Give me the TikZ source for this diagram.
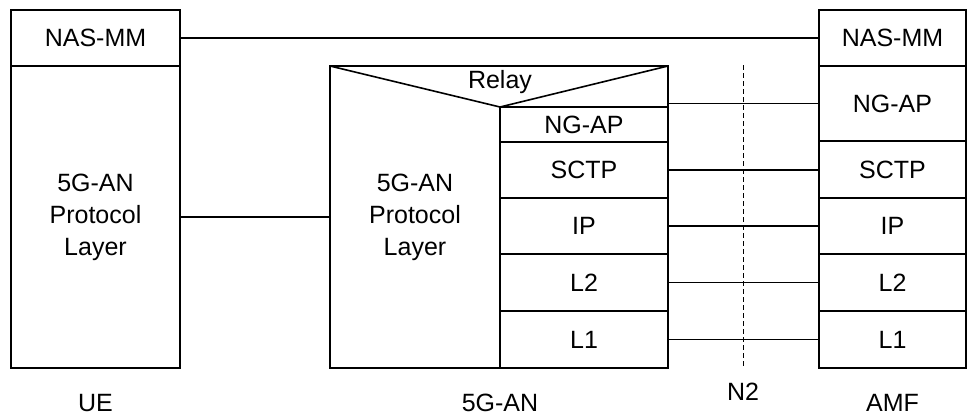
\documentclass[tikz,border=0pt]{standalone}
\usepackage{fontspec}
\setmainfont{Liberation Sans}
\usetikzlibrary{positioning}

\begin{document}
\begin{tikzpicture}[x=1pt,y=-1pt,
  layer/.style={
    rectangle,
    draw,
    line width=1.6pt,
    inner sep=0pt,
    align=center,
    font=\fontsize{25}{32}\selectfont
  },
  lbl/.style={
    inner sep=0pt,
    align=center,
    font=\fontsize{25}{32}\selectfont
  }
]
 \useasboundingbox (0,0) rectangle (975,416);
 % UE
 \node[layer,minimum width=169pt,minimum height=56pt] (uenas) at (95.5,38) {NAS-MM};
 \node[layer,minimum width=169pt,minimum height=302pt] (uepl) at (95.5,217) {5G-AN\\Protocol\\Layer};
 % 5G-AN
 \node[lbl,minimum width=170pt,minimum height=302pt] (anpl) at (415,217) {5G-AN\\Protocol\\Layer};
 \node[lbl,anchor=base] (relay) at (500,88) {Relay};
 \node[layer,minimum width=168pt,minimum height=35pt] (anngap) at (584,124.5) {NG-AP};
 \node[layer,minimum width=168pt,minimum height=56pt] (ansctp) at (584,170) {SCTP};
 \node[layer,minimum width=168pt,minimum height=56pt] (anip) at (584,226) {IP};
 \node[layer,minimum width=168pt,minimum height=57pt] (anltwo) at (584,282.5) {L2};
 \node[layer,minimum width=168pt,minimum height=57pt] (anlone) at (584,339.5) {L1};
 \draw[line width=1.6pt] (330,66) rectangle (668,368);
 \draw[line width=1.6pt] (330,66) -- (500,107) -- (668,66);
 % AMF
 \node[layer,minimum width=147pt,minimum height=56pt] (amfnas) at (892.5,38) {NAS-MM};
 \node[layer,minimum width=147pt,minimum height=75pt] (amfngap) at (892.5,103.5) {NG-AP};
 \node[layer,minimum width=147pt,minimum height=57pt] (amfsctp) at (892.5,169.5) {SCTP};
 \node[layer,minimum width=147pt,minimum height=56pt] (amfip) at (892.5,226) {IP};
 \node[layer,minimum width=147pt,minimum height=57pt] (amfltwo) at (892.5,282.5) {L2};
 \node[layer,minimum width=147pt,minimum height=57pt] (amflone) at (892.5,339.5) {L1};
 % N2
 \coordinate (ntop) at (743,65);
 \coordinate (nbot) at (743,368);
 \draw[line width=1pt,dash pattern=on 5pt off 3pt] (ntop) -- (nbot);
 % peer links
 \draw[line width=1.6pt] (uenas) -- (amfnas);
 \draw[line width=1.6pt] (uepl) -- (anpl);
 \draw[line width=1.6pt] (amfngap.west -| anngap.east) -- (amfngap.west);
 \draw[line width=1.6pt] (ansctp.east) -- (ansctp.east -| amfsctp.west);
 \draw[line width=1.6pt] (anip) -- (amfip);
 \draw[line width=1.6pt] (anltwo) -- (amfltwo);
 \draw[line width=1.6pt] (anlone) -- (amflone);
 % labels
 \node[lbl] (ue) at (95.5,403) {UE};
 \node[lbl] (an) at (500,403) {5G-AN};
 \node[lbl] (ntwo) at (743,392) {N2};
 \node[lbl] (amf) at (892.5,403) {AMF};
\end{tikzpicture}
\end{document}
